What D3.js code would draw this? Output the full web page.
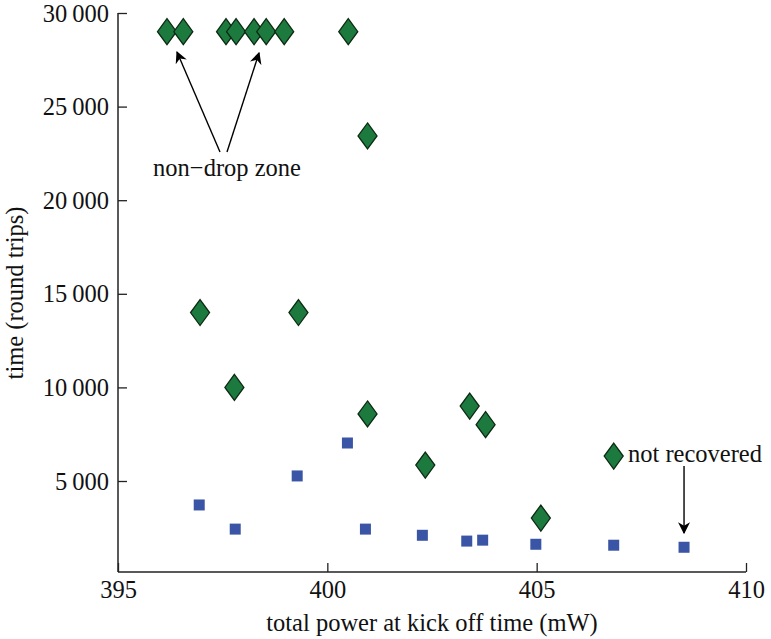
<!DOCTYPE html>
<html><head><meta charset="utf-8">
<script src="https://cdn.jsdelivr.net/npm/d3@7"></script>
<style>body{margin:0;background:#fff;}</style>
</head><body><svg id="c" width="771" height="639"></svg>
<script>
const droppedX = [396.17,396.56,397.58,397.82,398.25,398.54,398.97,400.50,400.96,396.96,397.78,399.31,400.96,402.34,403.40,403.78,405.10,406.84];
const droppedY = [29000,29000,29000,29000,29000,29000,29000,29000,23430,14000,10000,14000,8580,5850,9000,8010,3020,6330];
const recoverX = [396.94,397.80,399.28,400.48,400.91,402.27,403.33,403.71,404.98,406.84,408.52];
const recoverY = [3720,2430,5270,7030,2430,2100,1790,1840,1620,1570,1460];
const xTicks = [395,400,405,410];
const yTicks = [5000,10000,15000,20000,25000,30000];
const xLabel = "total power at kick off time (mW)";
const yLabel = "time (round trips)";

const FONT = '"Liberation Serif"';
const svg = d3.select("#c");
const x = d3.scaleLinear().domain([395,410]).range([118,746]);
const y = d3.scaleLinear().domain([0,30000]).range([574.6,13]);
const fmt = v => d3.format(",")(v).replace(",", "\u2009");
const fs = 24.5;

// axes
const gx = svg.append("g").attr("transform",`translate(0,572)`)
  .call(d3.axisBottom(x).tickValues(xTicks).tickSize(-9).tickSizeOuter(0).tickPadding(9));
const gy = svg.append("g").attr("transform",`translate(118,0)`)
  .call(d3.axisLeft(y).tickValues(yTicks).tickSize(-9).tickSizeOuter(0).tickFormat(fmt).tickPadding(9));
[gx,gy].forEach(g=>{
  g.select(".domain").remove();
  g.selectAll("line").attr("stroke","#222").attr("stroke-width",1.3);
  g.selectAll("text").style("font-size",fs+"px").style("font-family",FONT).attr("fill","#111");
});
gy.selectAll("text").attr("dy","0.33em");
svg.append("line").attr("x1",118).attr("x2",118).attr("y1",13).attr("y2",572).attr("stroke","#222").attr("stroke-width",1.5);
svg.append("line").attr("x1",118).attr("x2",x(410)).attr("y1",572).attr("y2",572).attr("stroke","#222").attr("stroke-width",1.5);

function txt(xp,yp,s,anchor){
  return svg.append("text").attr("x",xp).attr("y",yp).attr("text-anchor",anchor||"start")
    .style("font-size",fs+"px").style("font-family",FONT).attr("fill","#111").text(s);
}
// labels
txt(432,631,xLabel,"middle");
svg.append("text").attr("transform","translate(23,293) rotate(-90)").attr("text-anchor","middle")
  .style("font-size",fs+"px").style("font-family",FONT).attr("fill","#111").text(yLabel);

// blue squares
const sq = 11;
svg.append("g").selectAll("rect").data(recoverX.map((v,i)=>[v,recoverY[i]])).join("rect")
  .attr("x",d=>x(d[0])-sq/2).attr("y",d=>y(d[1])-sq/2).attr("width",sq).attr("height",sq)
  .attr("fill","#3b55a6");

// green diamonds
const w = 9.5, h = 13;
svg.append("g").selectAll("path").data(droppedX.map((v,i)=>[v,droppedY[i]])).join("path")
  .attr("d",d=>{const cx=x(d[0]),cy=y(d[1]);return `M${cx},${cy-h}L${cx+w},${cy}L${cx},${cy+h}L${cx-w},${cy}Z`;})
  .attr("fill","#1d7a3e").attr("stroke","#0d2a14").attr("stroke-width",1.3);

// arrows
svg.append("defs").append("marker").attr("id","ah").attr("viewBox","0 0 10 10").attr("refX",9).attr("refY",5)
  .attr("markerWidth",12).attr("markerHeight",12).attr("markerUnits","userSpaceOnUse").attr("orient","auto")
  .append("path").attr("d","M0,0L10,5L0,10L3,5Z").attr("fill","#000");
function arrow(x1,y1,x2,y2){
  svg.append("line").attr("x1",x1).attr("y1",y1).attr("x2",x2).attr("y2",y2)
    .attr("stroke","#000").attr("stroke-width",1.4).attr("marker-end","url(#ah)");
}
arrow(220,152,177,52);
arrow(227,152,259,53);
txt(227,176,"non\u2212drop zone","middle");
arrow(x(408.52),466,x(408.52),533);
txt(628,462,"not recovered");
</script></body></html>
